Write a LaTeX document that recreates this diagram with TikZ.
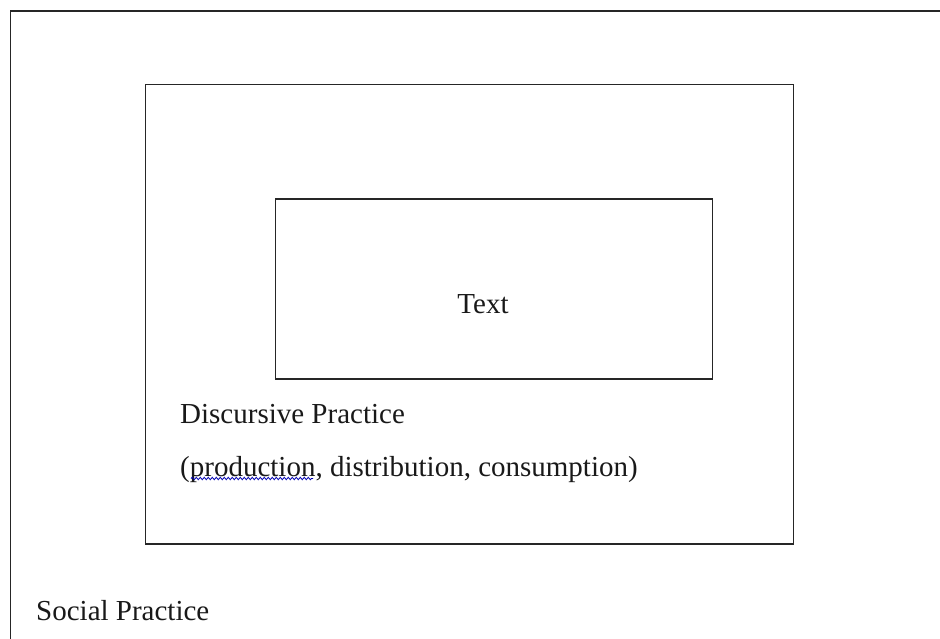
\documentclass[tikz,border=0pt]{standalone}
\usepackage{fontspec}
\setmainfont{Liberation Serif}
\usetikzlibrary{decorations.pathmorphing}
\begin{document}
\begin{tikzpicture}[x=1pt,y=-1pt,
  box/.style={draw=black!85,line width=1.4pt,rectangle,inner sep=0pt,anchor=north west},
  lbl/.style={inner sep=0pt,anchor=base west,font=\fontsize{29}{35}\selectfont,text=black!90},
  squiggle/.style={draw=blue!70!black,line width=0.8pt,decorate,decoration={snake,amplitude=1.2pt,segment length=4pt}}]
\useasboundingbox (0,0) rectangle (940,639);
\clip (0,0) rectangle (940,639);
\node[box,minimum width=960pt,minimum height=660pt] (social) at (9.5,10.5) {};
\node[box,minimum width=647.7pt,minimum height=459.3pt] (discursive) at (145,84) {};
\node[box,minimum width=436.7pt,minimum height=180pt] (textbox) at (275,198.3) {};
\node[lbl,anchor=base] (textlbl) at (483,313) {Text};
\node[lbl] (dp1) at (180,423) {Discursive Practice};
\node[lbl] (dp2) at (180,476) {(production, distribution, consumption)};
\node[lbl] (sp) at (36,620) {Social Practice};
\coordinate (sqa) at (191,478.5);
\coordinate (sqb) at (313,478.5);
\draw[squiggle] (sqa) -- (sqb);
\end{tikzpicture}
\end{document}
